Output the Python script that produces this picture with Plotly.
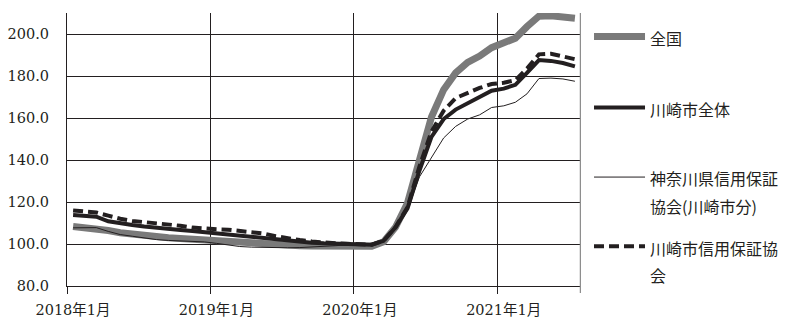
import pandas as pd
import plotly.graph_objects as go

# Monthly index values, Jan 2018 - Jul 2021
months = pd.date_range("2018-01-01", "2021-07-01", freq="MS").strftime("%Y-%m-%d").tolist()

national = [
    108.3, 107.8, 107.6, 106.4, 105.4, 104.6, 103.9, 103.4, 103.0, 102.6, 102.2, 101.9,
    101.6, 101.2, 100.8, 100.3, 99.9, 99.5, 99.3, 99.2, 99.1, 99.1, 99.2, 99.4,
    99.6, 98.9, 101.0, 108.0, 119.5, 141.0, 160.5, 173.5, 181.5, 186.5, 189.5, 193.5,
    195.5, 198.0, 203.5, 208.5, 208.7, 208.4, 207.5,
]
kawasaki_total = [
    113.8, 113.5, 113.0, 110.8, 109.8, 109.0, 108.3, 107.6, 107.2, 106.7, 106.2, 105.6,
    105.2, 104.6, 104.0, 103.4, 102.8, 102.2, 101.6, 101.0, 100.6, 100.3, 100.1, 100.0,
    100.0, 99.7, 101.5, 108.0, 117.0, 135.0, 151.0, 159.5, 164.0, 167.0, 169.5, 173.0,
    174.0, 175.8, 181.5, 187.6, 187.2, 186.2, 184.6,
]
kanagawa_cgc = [
    107.7, 107.6, 107.8, 106.0, 104.5, 103.7, 102.8, 102.1, 101.7, 101.4, 101.2, 101.0,
    100.3, 99.4, 98.8, 98.5, 98.3, 98.2, 98.2, 98.3, 98.5, 98.8, 99.2, 99.6,
    99.8, 99.4, 101.0, 107.5, 116.5, 132.0, 141.5, 150.5, 156.0, 159.5, 161.5, 165.0,
    165.8, 167.5, 171.5, 178.8, 179.0, 178.6, 177.5,
]
kawasaki_cgc = [
    116.0, 115.5, 115.0, 113.5, 112.0, 111.0, 110.5, 110.0, 109.3, 108.7, 107.8, 107.3,
    107.0, 106.8, 106.3, 105.8, 105.0, 103.7, 102.6, 101.9, 101.2, 100.6, 100.3, 100.1,
    100.0, 99.7, 101.5, 108.0, 117.5, 137.0, 153.5, 163.5, 169.5, 172.0, 174.3, 176.2,
    176.8, 178.0, 183.5, 190.3, 190.6, 189.3, 188.0,
]

tick_dates = ["2018-01-01", "2019-01-01", "2020-01-01", "2021-01-01"]
tick_labels = ["2018年1月", "2019年1月", "2020年1月", "2021年1月"]
y_ticks = [80, 100, 120, 140, 160, 180, 200]

INK = "#231f20"
GREY = "#7a7a7a"
SANS = "'Noto Sans CJK JP', sans-serif"
SERIF = "'DejaVu Serif', 'Noto Sans CJK JP', serif"


def label(text):
    # legend text at 16px inside a taller line box
    return "<br>".join(f"<span style='font-size:16px'>{t}</span>" for t in text.split("\n"))


series = [
    ("全国", national, dict(color=GREY, width=7), "legend"),
    ("川崎市全体", kawasaki_total, dict(color=INK, width=4), "legend2"),
    ("神奈川県信用保証\n協会(川崎市分)", kanagawa_cgc, dict(color=INK, width=1), "legend3"),
    ("川崎市信用保証協\n会", kawasaki_cgc, dict(color=INK, width=4, dash="10px,5px"), "legend4"),
]

fig = go.Figure()
for name, values, line, lg in series:
    fig.add_trace(go.Scatter(
        x=months, y=values, name=label(name), mode="lines", line=line,
        xperiod="M1", xperiodalignment="middle", legend=lg,
    ))

legend_common = dict(
    xanchor="left", yanchor="top", bgcolor="rgba(0,0,0,0)", borderwidth=0,
    itemwidth=51, valign="top", font=dict(family=SANS, size=21.5, color=INK),
)
legend_y = [0.989, 0.729, 0.474, 0.221]
layout_legends = {}
for i, key in enumerate(["legend", "legend2", "legend3", "legend4"]):
    layout_legends[key] = dict(legend_common, x=1.0156, y=legend_y[i])

fig.update_layout(
    width=789, height=320,
    margin=dict(l=67, r=208, t=13, b=34, autoexpand=False),
    paper_bgcolor="white", plot_bgcolor="white",
    showlegend=True,
    **layout_legends,
    xaxis=dict(
        type="date", range=["2018-01-01", "2021-08-01"],
        tickvals=tick_dates, ticktext=tick_labels,
        ticks="outside", ticklen=7, tickwidth=1, tickcolor=INK,
        ticklabelshift=6, ticklabelstandoff=4,
        showgrid=True, gridcolor=INK, gridwidth=1,
        showline=True, linecolor=INK, linewidth=1,
        tickfont=dict(family=SERIF, size=14.5, color=INK),
        zeroline=False,
    ),
    yaxis=dict(
        range=[80, 210], tickvals=y_ticks, tickformat=".1f",
        showgrid=True, gridcolor=INK, gridwidth=1,
        showline=True, linecolor=INK, linewidth=1,
        ticks="", ticklabelstandoff=14,
        tickfont=dict(family=SERIF, size=14.5, color=INK),
        zeroline=False,
    ),
    shapes=[dict(
        type="line", xref="x", yref="paper",
        x0="2021-08-01", x1="2021-08-01", y0=-7 / 273, y1=1,
        line=dict(color="#8e8e8e", width=2.5),
    )],
)

fig.write_html("out.html")
